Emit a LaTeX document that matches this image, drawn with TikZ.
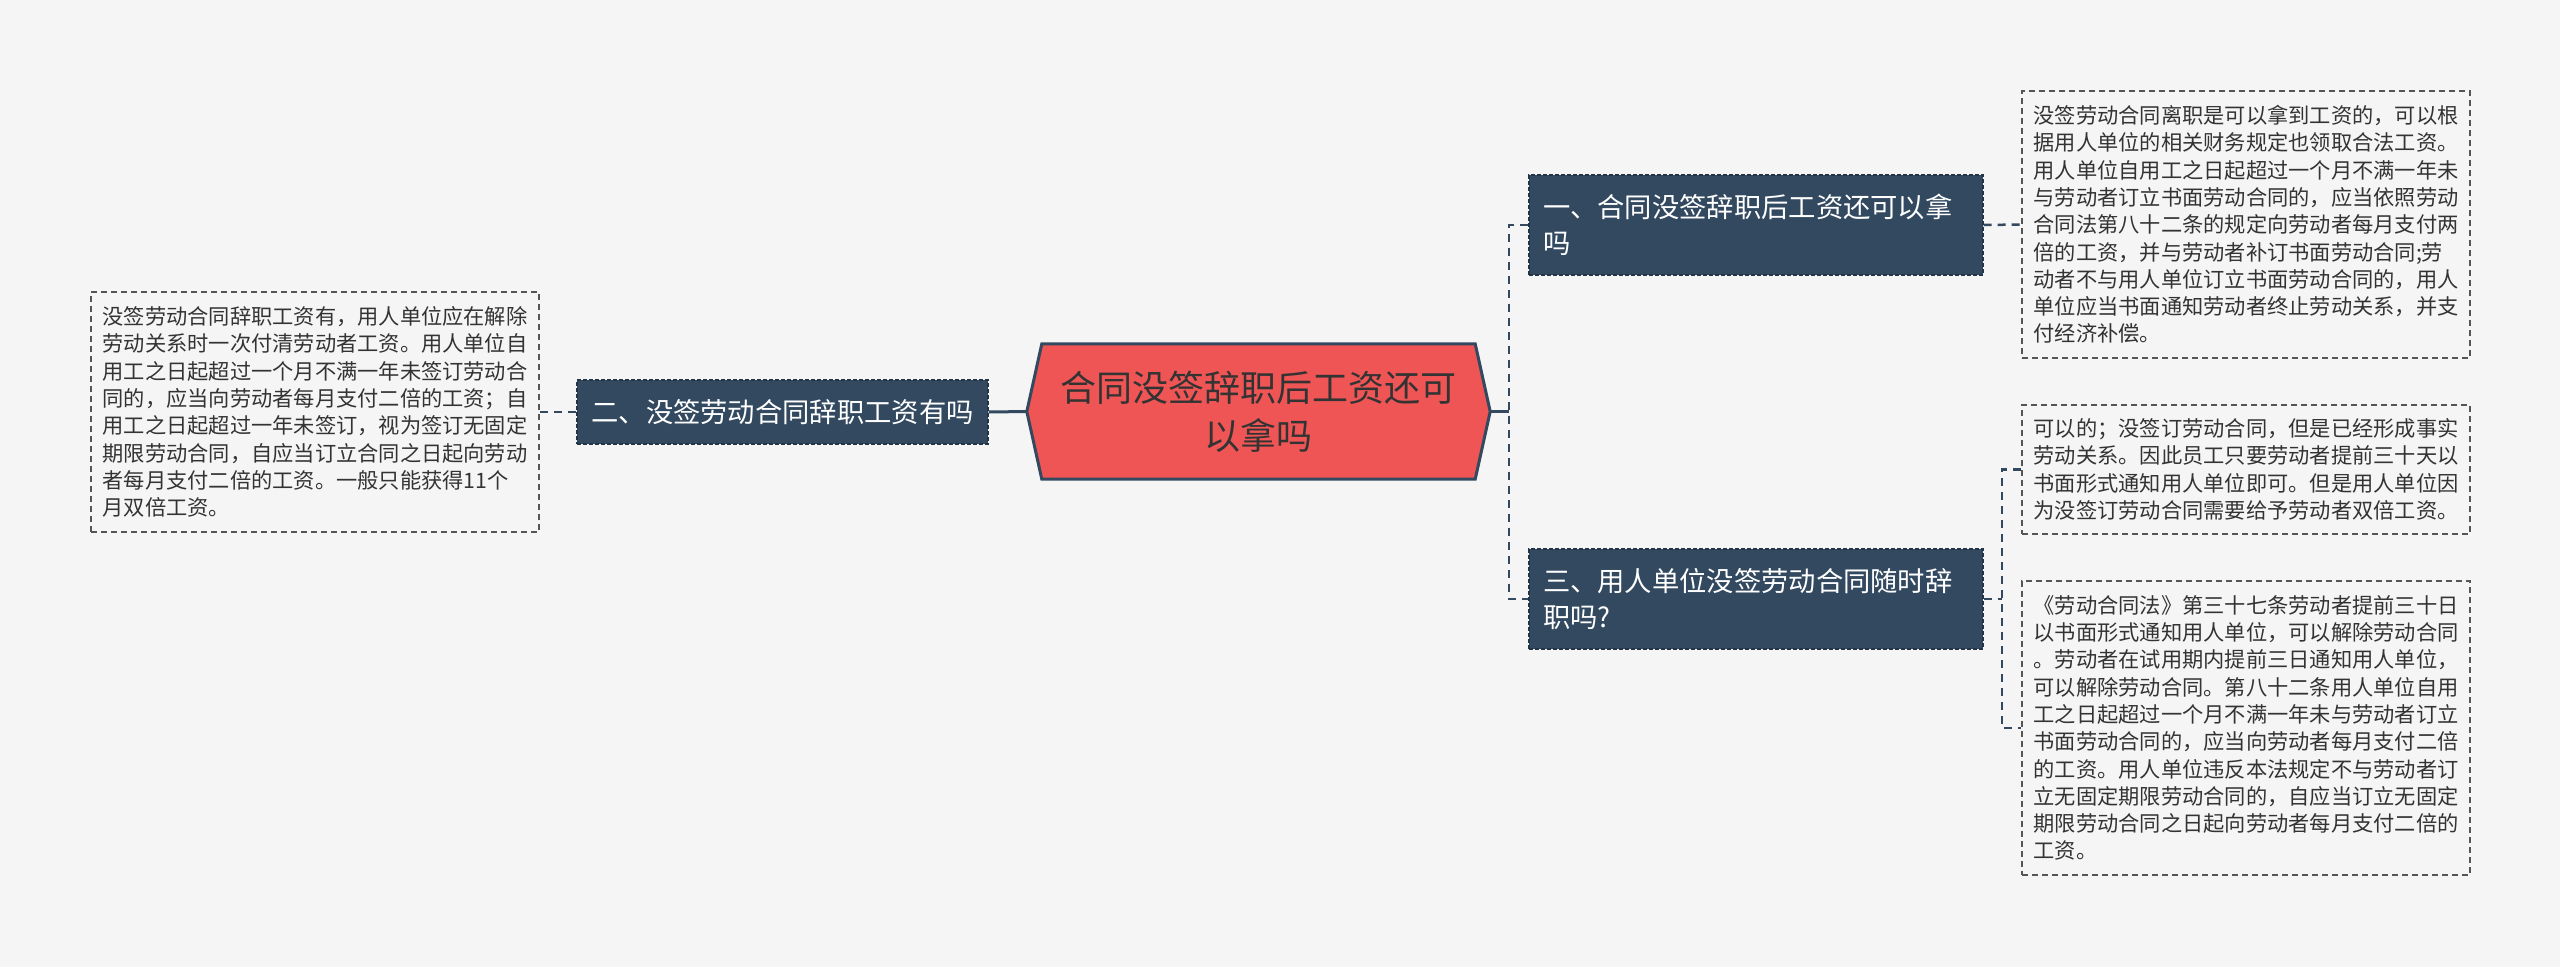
\documentclass[tikz,border=0pt]{standalone}
\usepackage{fontspec}
\newfontfamily\cjk{Noto Sans CJK SC}
\usetikzlibrary{calc}
\pgfdeclarelayer{back}
\pgfsetlayers{back,main}
\definecolor{bg}{RGB}{245,245,245}
\definecolor{navy}{RGB}{50,73,96}
\definecolor{navyline}{RGB}{35,52,70}
\definecolor{redfill}{RGB}{240,85,85}
\definecolor{txt}{RGB}{51,51,51}
\definecolor{boxline}{RGB}{85,85,85}
\begin{document}
\begin{tikzpicture}[x=1pt,y=-1pt,
  detail/.style={draw=boxline, line width=1.5pt, dash pattern=on 6pt off 4pt, fill=bg, text=txt, align=left, inner xsep=0pt, minimum width=448pt, font=\cjk\fontsize{21.25}{27.3}\selectfont},
  topic/.style={draw=navyline, line width=1.2pt, dash pattern=on 4pt off 2pt, fill=navy, text=white, font=\cjk\fontsize{27.3}{36}\selectfont},
  bus/.style={draw=navy, line width=2.7pt, dash pattern=on 8pt off 6pt},
  solidlink/.style={draw=navy, line width=3pt},
  dashlink/.style={draw=navy, line width=2.5pt, dash pattern=on 8pt off 6pt}]
\begin{pgfonlayer}{back}
\fill[bg] (0,0) rectangle (2560,967);
\end{pgfonlayer}
\useasboundingbox (0,0) rectangle (2560,967);

% central
\node[minimum width=463pt, minimum height=135pt, inner sep=0pt, align=center, text=txt,
      font=\cjk\fontsize{36}{48}\selectfont] (main) at (1258.5,411.5)
  {合同没签辞职后工资还可\\以拿吗};
\begin{pgfonlayer}{back}
\filldraw[fill=redfill, draw=navy, line width=3pt, line join=miter]
  (main.west) -- ($(main.north west)+(15,0)$) -- ($(main.north east)+(-15,0)$)
  -- (main.east) -- ($(main.south east)+(-15,0)$) -- ($(main.south west)+(15,0)$) -- cycle;
\end{pgfonlayer}

% topics
\node[topic, minimum width=411pt, minimum height=64pt, inner xsep=0pt] (n2) at (782.5,412)
  {二、没签劳动合同辞职工资有吗};
\node[topic, text width=426pt, inner xsep=14pt, minimum height=100pt, align=left] (n1) at (1756,225)
  {一、合同没签辞职后工资还可以拿\\吗};
\node[topic, text width=426pt, inner xsep=14pt, minimum height=100pt, align=left] (n3) at (1756,599)
  {三、用人单位没签劳动合同随时辞\\职吗?};

% details
\node[detail, minimum height=240pt] (L) at (315,412)
  {没签劳动合同辞职工资有，用人单位应在解除\\
   劳动关系时一次付清劳动者工资。用人单位自\\
   用工之日起超过一个月不满一年未签订劳动合\\
   同的，应当向劳动者每月支付二倍的工资；自\\
   用工之日起超过一年未签订，视为签订无固定\\
   期限劳动合同，自应当订立合同之日起向劳动\\
   者每月支付二倍的工资。一般只能获得11个\\
   月双倍工资。};
\node[detail, minimum height=267pt] (R1) at (2246,224.5)
  {没签劳动合同离职是可以拿到工资的，可以根\\
   据用人单位的相关财务规定也领取合法工资。\\
   用人单位自用工之日起超过一个月不满一年未\\
   与劳动者订立书面劳动合同的，应当依照劳动\\
   合同法第八十二条的规定向劳动者每月支付两\\
   倍的工资，并与劳动者补订书面劳动合同;劳\\
   动者不与用人单位订立书面劳动合同的，用人\\
   单位应当书面通知劳动者终止劳动关系，并支\\
   付经济补偿。};
\node[detail, minimum height=129pt] (R2) at (2246,469.5)
  {可以的；没签订劳动合同，但是已经形成事实\\
   劳动关系。因此员工只要劳动者提前三十天以\\
   书面形式通知用人单位即可。但是用人单位因\\
   为没签订劳动合同需要给予劳动者双倍工资。};
\node[detail, minimum height=294pt] (R3) at (2246,728)
  {《劳动合同法》第三十七条劳动者提前三十日\\
   以书面形式通知用人单位，可以解除劳动合同\\
   。劳动者在试用期内提前三日通知用人单位，\\
   可以解除劳动合同。第八十二条用人单位自用\\
   工之日起超过一个月不满一年未与劳动者订立\\
   书面劳动合同的，应当向劳动者每月支付二倍\\
   的工资。用人单位违反本法规定不与劳动者订\\
   立无固定期限劳动合同的，自应当订立无固定\\
   期限劳动合同之日起向劳动者每月支付二倍的\\
   工资。};

% connectors
\begin{pgfonlayer}{back}
\draw[solidlink] (main.west) -- (n2.east);
\draw[dashlink] (n2.west) -- (L.east);
\coordinate (b1) at (1509,411.5);
\draw[solidlink] (main.east) -- (b1);
\draw[bus] (n1.west) -| (b1) |- (n3.west);
\draw[dashlink] (n1.east) -- (R1.west);
\coordinate (b2) at (2002,599);
\draw[dashlink] (n3.east) -- (b2);
\draw[bus] (R2.west) -| (b2) |- (R3.west);
\end{pgfonlayer}
\end{tikzpicture}
\end{document}
